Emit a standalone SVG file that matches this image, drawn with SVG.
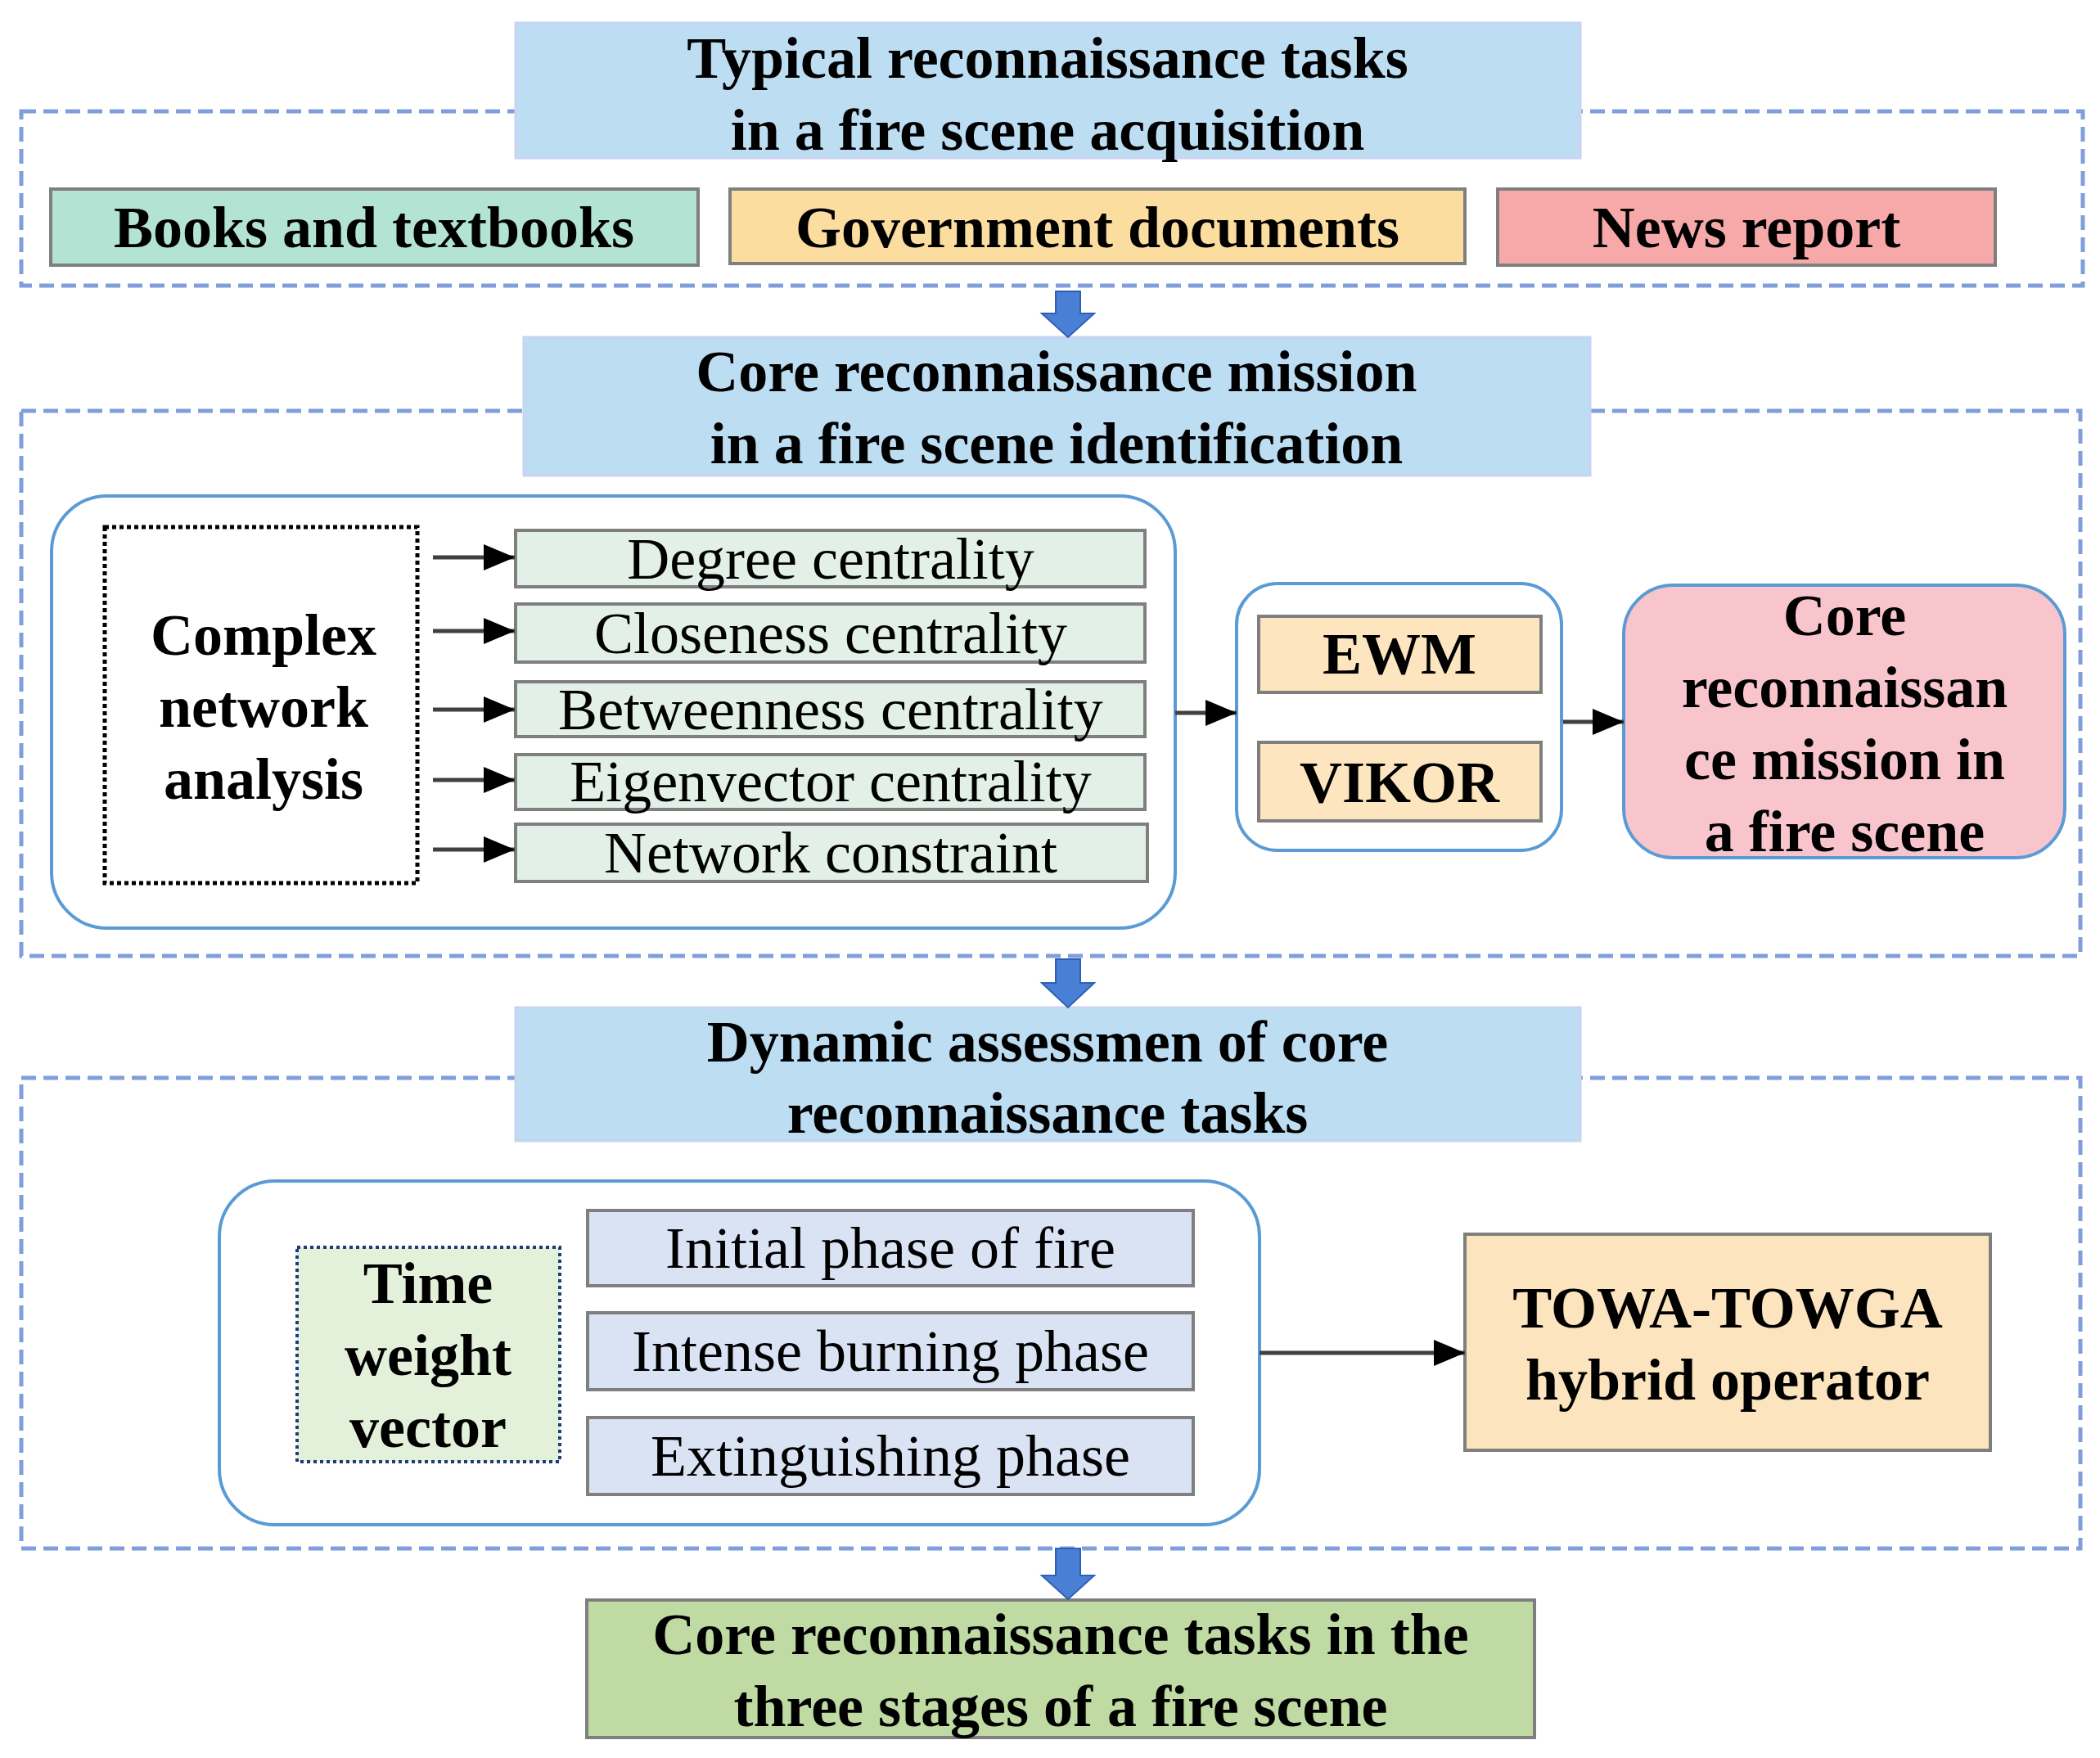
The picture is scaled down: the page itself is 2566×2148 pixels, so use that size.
<svg xmlns="http://www.w3.org/2000/svg" width="2566" height="2148" viewBox="0 0 2566 2148">
<defs>
<style>
.t{font-family:"Liberation Serif","Times New Roman",serif;font-size:72px;fill:#000;text-anchor:middle}
.b{font-weight:bold}
.dash{fill:none;stroke:#7F9EDB;stroke-width:5;stroke-dasharray:18 9}
.title{fill:#BDDDF2;stroke:#C9D3F3;stroke-width:3}
.gbox{stroke:#7F7F7F;stroke-width:4}
.round{fill:#fff;stroke:#5B9BD5;stroke-width:4}
.conn{stroke:#404040;stroke-width:5;fill:none;marker-end:url(#ah)}
.barrow{fill:#4A7FD6;stroke:#2E5FB5;stroke-width:2}
</style>
<marker id="ah" markerUnits="userSpaceOnUse" markerWidth="40" markerHeight="32" refX="38" refY="16" orient="auto">
<path d="M0,0 L38,16 L0,32 Z" fill="#000"/>
</marker>
</defs>
<rect width="2566" height="2148" fill="#fff"/>

<!-- section containers -->
<g id="section1">
<rect class="dash" x="26" y="136" width="2519" height="213"/>
</g>
<g id="section2">
<rect class="dash" x="26" y="502" width="2516" height="666"/>
</g>
<g id="section3">
<rect class="dash" x="26" y="1317" width="2516" height="575"/>
</g>

<g id="typical">
<rect class="title" x="630" y="28" width="1301" height="165"/>
<text class="t b" x="1280" y="95">Typical reconnaissance tasks</text>
<text class="t b" x="1280" y="183">in a fire scene acquisition</text>
</g>
<g id="books">
<rect class="gbox" x="62" y="231" width="791" height="93" fill="#B3E3D3"/>
<text class="t b" x="457" y="302">Books and textbooks</text>
</g>
<g id="government">
<rect class="gbox" x="892" y="231" width="898" height="91" fill="#FCDDA0"/>
<text class="t b" x="1341" y="302">Government documents</text>
</g>
<g id="news">
<rect class="gbox" x="1830" y="231" width="608" height="93" fill="#F7A9A9"/>
<text class="t b" x="2134" y="302">News report</text>
</g>

<g id="core-identification">
<rect class="title" x="640" y="412" width="1303" height="169"/>
<text class="t b" x="1291" y="478">Core reconnaissance mission</text>
<text class="t b" x="1291" y="566">in a fire scene identification</text>
</g>

<g id="cna-group">
<rect class="round" x="63" y="606" width="1373" height="528" rx="68" ry="68"/>
</g>
<g id="complex-network">
<rect x="128" y="644" width="382" height="435" fill="none" stroke="#000" stroke-width="5" stroke-dasharray="5 4"/>
<text class="t b" x="322" y="800">Complex</text>
<text class="t b" x="322" y="888">network</text>
<text class="t b" x="322" y="976">analysis</text>
</g>
<g id="degree">
<rect class="gbox" x="630" y="648" width="769" height="69" fill="#E2F0E8"/>
<text class="t" x="1015" y="707">Degree centrality</text>
</g>
<g id="closeness">
<rect class="gbox" x="630" y="738" width="769" height="71" fill="#E2F0E8"/>
<text class="t" x="1015" y="798">Closeness centrality</text>
</g>
<g id="betweenness">
<rect class="gbox" x="630" y="833" width="769" height="67" fill="#E2F0E8"/>
<text class="t" x="1015" y="891">Betweenness centrality</text>
</g>
<g id="eigenvector">
<rect class="gbox" x="630" y="922" width="769" height="67" fill="#E2F0E8"/>
<text class="t" x="1015" y="979">Eigenvector centrality</text>
</g>
<g id="constraint">
<rect class="gbox" x="630" y="1007" width="772" height="70" fill="#E2F0E8"/>
<text class="t" x="1015" y="1066">Network constraint</text>
</g>

<g id="mcdm-group">
<rect class="round" x="1511" y="713" width="397" height="326" rx="50" ry="50"/>
</g>
<g id="ewm">
<rect class="gbox" x="1538" y="753" width="345" height="93" fill="#FDE6BF"/>
<text class="t b" x="1710" y="823">EWM</text>
</g>
<g id="vikor">
<rect class="gbox" x="1538" y="907" width="345" height="96" fill="#FDE6BF"/>
<text class="t b" x="1710" y="980">VIKOR</text>
</g>
<g id="core-mission">
<rect x="1984" y="715" width="539" height="333" rx="60" ry="60" fill="#F8C5CC" stroke="#5B9BD5" stroke-width="4"/>
<text class="t b" x="2254" y="776">Core</text>
<text class="t b" x="2254" y="864">reconnaissan</text>
<text class="t b" x="2254" y="952">ce mission in</text>
<text class="t b" x="2254" y="1040">a fire scene</text>
</g>

<g id="dynamic">
<rect class="title" x="630" y="1231" width="1301" height="163"/>
<text class="t b" x="1280" y="1297">Dynamic assessmen of core</text>
<text class="t b" x="1280" y="1384">reconnaissance tasks</text>
</g>

<g id="phase-group">
<rect class="round" x="268" y="1443" width="1271" height="420" rx="68" ry="68"/>
</g>
<g id="time-weight">
<rect x="363" y="1524" width="321" height="262" fill="#E3F1DA" stroke="#1F3C7A" stroke-width="4" stroke-dasharray="4 4"/>
<text class="t b" x="523" y="1592">Time</text>
<text class="t b" x="523" y="1680">weight</text>
<text class="t b" x="523" y="1768">vector</text>
</g>
<g id="initial">
<rect class="gbox" x="718" y="1479" width="740" height="92" fill="#DAE3F3"/>
<text class="t" x="1088" y="1549">Initial phase of fire</text>
</g>
<g id="intense">
<rect class="gbox" x="718" y="1604" width="740" height="94" fill="#DAE3F3"/>
<text class="t" x="1088" y="1675">Intense burning phase</text>
</g>
<g id="extinguishing">
<rect class="gbox" x="718" y="1732" width="740" height="94" fill="#DAE3F3"/>
<text class="t" x="1088" y="1803">Extinguishing phase</text>
</g>
<g id="towa">
<rect class="gbox" x="1790" y="1508" width="642" height="264" fill="#FCE4BE"/>
<text class="t b" x="2111" y="1622">TOWA-TOWGA</text>
<text class="t b" x="2111" y="1710">hybrid operator</text>
</g>

<g id="final">
<rect class="gbox" x="717" y="1955" width="1158" height="168" fill="#BFDAA3"/>
<text class="t b" x="1296" y="2021">Core reconnaissance tasks in the</text>
<text class="t b" x="1296" y="2109">three stages of a fire scene</text>
</g>

<!-- connectors -->
<g id="connectors">
<path class="barrow" d="M1290,356 H1320 V383 H1337 L1305,412 L1273,383 H1290 Z"/>
<path class="barrow" d="M1290,1172 H1320 V1201 H1337 L1305,1231 L1273,1201 H1290 Z"/>
<path class="barrow" d="M1290,1892 H1320 V1925 H1337 L1305,1954 L1273,1925 H1290 Z"/>
<line class="conn" x1="529" y1="681" x2="629" y2="681"/>
<line class="conn" x1="529" y1="771" x2="629" y2="771"/>
<line class="conn" x1="529" y1="867" x2="629" y2="867"/>
<line class="conn" x1="529" y1="953" x2="629" y2="953"/>
<line class="conn" x1="529" y1="1038" x2="629" y2="1038"/>
<line class="conn" x1="1436" y1="871" x2="1511" y2="871"/>
<line class="conn" x1="1910" y1="882" x2="1984" y2="882"/>
<line class="conn" x1="1539" y1="1653" x2="1790" y2="1653"/>
</g>
</svg>
